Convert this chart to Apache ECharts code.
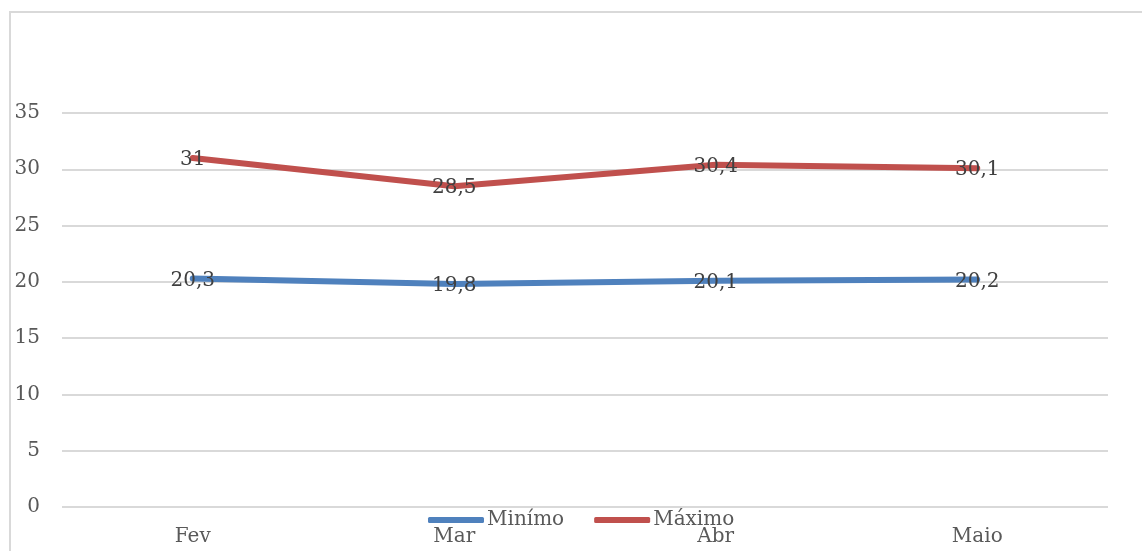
<!DOCTYPE html>
<html><head><meta charset="utf-8">
<script src="https://cdn.jsdelivr.net/npm/echarts@6/dist/echarts.min.js"></script>
<style>
html,body{margin:0;padding:0;background:#fff;}
#frame{position:absolute;left:9px;top:11px;width:1140px;height:560px;border-left:2px solid #d9d9d9;border-top:2px solid #d9d9d9;box-sizing:border-box;}
#c{position:absolute;left:0;top:0;width:1142px;height:551px;}
</style></head>
<body><div id="frame"></div><div id="c"></div>
<script>
const categories = ['Fev', 'Mar', 'Abr', 'Maio'];
const minimo = [20.3, 19.8, 20.1, 20.2];
const maximo = [31, 28.5, 30.4, 30.1];
const seriesNames = ['Minímo', 'Máximo'];
const colors = ['#4f81bd', '#c0504d'];
const yTicks = {min: 0, max: 35, interval: 5};

const font = 'DejaVu Serif';
const chart = echarts.init(document.getElementById('c'), null, {renderer: 'canvas'});
const lbl = {
  show: true, position: 'inside', offset: [0, 2], color: '#404040', fontFamily: font, fontSize: 20,
  formatter: p => String(p.value).replace('.', ',')
};
chart.setOption({
  animation: false,
  grid: {left: 62, right: 34, top: 113, bottom: 44, containLabel: false},
  legend: {
    bottom: 16, left: 423, itemWidth: 56, itemHeight: 6, itemGap: 30,
    icon: 'roundRect',
    textStyle: {fontFamily: font, fontSize: 20, color: '#595959', padding: [0,0,0,-2]},
    data: seriesNames.map((n, i) => ({name: n, itemStyle: {color: colors[i], opacity: 1}}))
  },
  xAxis: {
    type: 'category', data: categories, boundaryGap: true,
    axisLine: {show: false}, axisTick: {show: false},
    axisLabel: {fontFamily: font, fontSize: 20, color: '#595959', margin: 20}
  },
  yAxis: {
    type: 'value', min: yTicks.min, max: yTicks.max, interval: yTicks.interval,
    axisLine: {show: false}, axisTick: {show: false},
    axisLabel: {fontFamily: font, fontSize: 20, color: '#595959', margin: 22},
    splitLine: {lineStyle: {color: '#d9d9d9', width: 2}}
  },
  series: [minimo, maximo].map((d, i) => ({
    name: seriesNames[i], type: 'line', data: d, symbol: 'circle', symbolSize: 1, showSymbol: true,
    lineStyle: {color: colors[i], width: 6, cap: 'round'},
    itemStyle: {color: 'rgba(0,0,0,0)', borderWidth: 0},
    label: lbl
  }))
});
</script></body></html>
